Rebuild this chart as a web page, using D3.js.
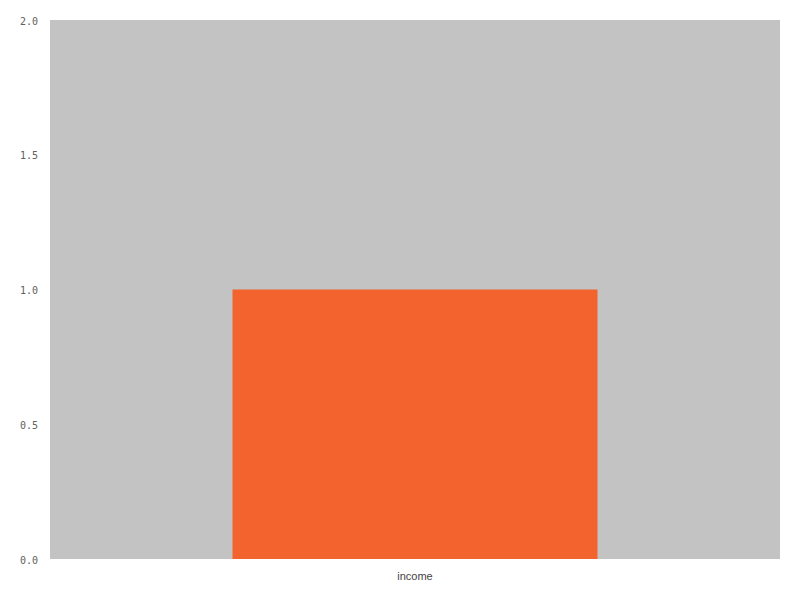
<!DOCTYPE html>
<html><head><meta charset="utf-8">
<script src="https://cdn.jsdelivr.net/npm/d3@7"></script>
<style>body{margin:0;background:#fff}</style>
</head><body>
<svg id="chart" width="800" height="600"></svg>
<script>
const categories = ["income"];
const values = [1];
const yTicks = [0, 0.5, 1.0, 1.5, 2.0];

const margin = {top: 20, right: 20, bottom: 41, left: 50};
const W = 800, H = 600;
const svg = d3.select("#chart");
const x = d3.scaleBand().domain(categories).range([margin.left, W - margin.right]).paddingInner(0).paddingOuter(0.5);
const y = d3.scaleLinear().domain([0, 2]).range([H - margin.bottom, margin.top]);

svg.append("rect").attr("x", margin.left).attr("y", margin.top)
  .attr("width", W - margin.left - margin.right).attr("height", H - margin.top - margin.bottom)
  .attr("fill", "#c3c3c3");

svg.selectAll(".bar").data(categories).enter().append("rect")
  .attr("x", d => x(d)).attr("y", (d, i) => y(values[i]))
  .attr("width", x.bandwidth()).attr("height", (d, i) => y(0) - y(values[i]))
  .attr("fill", "#f2632e");

const ya = svg.append("g").attr("transform", `translate(${margin.left},0)`)
  .call(d3.axisLeft(y).tickValues(yTicks).tickFormat(d3.format(".1f")).tickSize(0).tickPadding(12));
ya.select(".domain").remove();
ya.selectAll("text").attr("font-family", "DejaVu Sans Mono, monospace").attr("font-size", 10).attr("fill", "#606060").attr("dy", "0.4em");

const xa = svg.append("g").attr("transform", `translate(0,${H - margin.bottom})`)
  .call(d3.axisBottom(x).tickSize(0).tickPadding(13));
xa.select(".domain").remove();
xa.selectAll("text").attr("font-family", "Liberation Sans, Arial, sans-serif").attr("font-size", 11).attr("fill", "#444");
</script>
</body></html>
